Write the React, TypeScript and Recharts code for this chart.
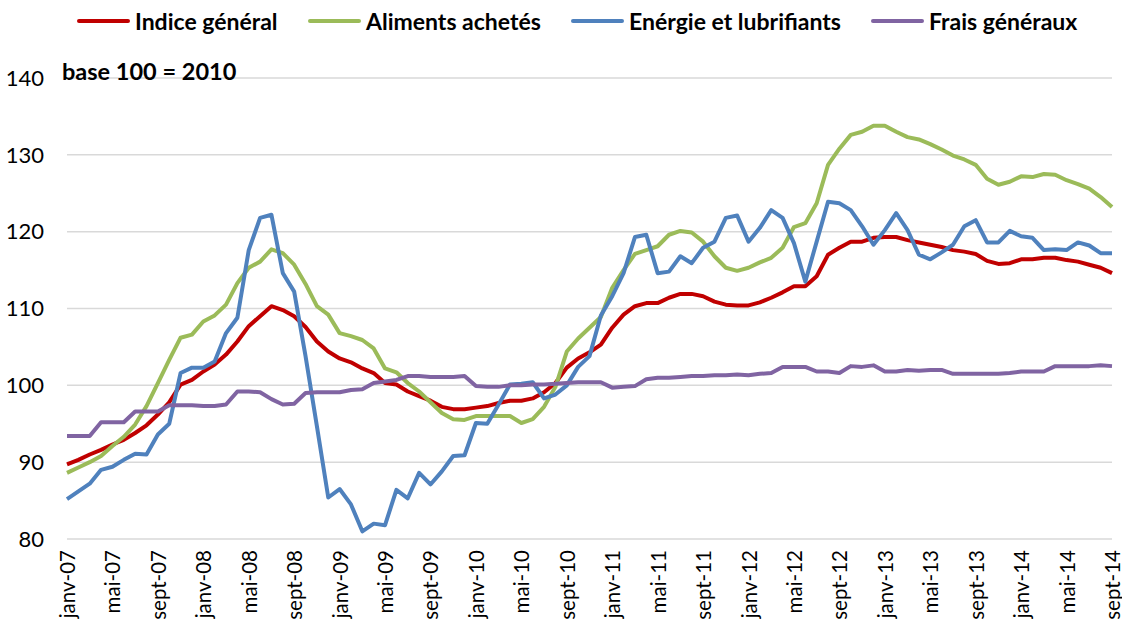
import { LineChart, Line, XAxis, YAxis, CartesianGrid } from 'recharts';

const MONTHS = ['janv', 'févr', 'mars', 'avr', 'mai', 'juin', 'juil', 'août', 'sept', 'oct', 'nov', 'déc'];
const YEARS = ['07', '08', '09', '10', '11', '12', '13', '14'];
const Y_TICKS = [80, 90, 100, 110, 120, 130, 140];

// janv-07 .. sept-14, monthly
const categories: string[] = YEARS.flatMap((yy) => MONTHS.map((m) => `${m}-${yy}`)).slice(0, 93);

const indiceGeneral = [
  89.7, 90.3, 91.0, 91.6, 92.3, 92.9, 93.8, 94.8, 96.2, 97.8, 100.1, 100.7,
  101.8, 102.7, 104.0, 105.7, 107.7, 109.0, 110.3, 109.8, 109.0, 107.6, 105.7, 104.4,
  103.5, 103.0, 102.2, 101.6, 100.3, 100.1, 99.2, 98.6, 98.0, 97.2, 96.9, 96.9,
  97.1, 97.3, 97.7, 98.0, 98.0, 98.3, 99.1, 100.3, 102.3, 103.5, 104.3, 105.3,
  107.5, 109.2, 110.3, 110.7, 110.7, 111.4, 111.9, 111.9, 111.6, 110.9, 110.5, 110.4,
  110.4, 110.8, 111.4, 112.1, 112.9, 112.9, 114.2, 117.0, 117.9, 118.7, 118.7, 119.2,
  119.3, 119.3, 118.9, 118.6, 118.3, 118.0, 117.6, 117.4, 117.1, 116.2, 115.8, 115.9,
  116.4, 116.4, 116.6, 116.6, 116.3, 116.1, 115.7, 115.3, 114.6,
];

const alimentsAchetes = [
  88.6, 89.3, 90.0, 90.8, 92.1, 93.3, 94.9, 97.3, 100.3, 103.3, 106.2, 106.6,
  108.3, 109.1, 110.5, 113.3, 115.3, 116.1, 117.7, 117.2, 115.7, 113.2, 110.3, 109.2,
  106.8, 106.4, 105.9, 104.8, 102.2, 101.7, 100.3, 99.2, 97.8, 96.4, 95.6, 95.5,
  96.0, 96.0, 96.0, 96.0, 95.1, 95.6, 97.2, 99.8, 104.4, 106.1, 107.5, 108.9,
  112.7, 115.0, 117.1, 117.6, 118.1, 119.6, 120.1, 119.9, 118.7, 116.8, 115.3, 114.9,
  115.3, 116.0, 116.6, 117.9, 120.6, 121.1, 123.7, 128.7, 130.8, 132.6, 133.0, 133.8,
  133.8, 133.0, 132.3, 132.0, 131.4, 130.7, 129.9, 129.4, 128.7, 126.9, 126.1, 126.5,
  127.2, 127.1, 127.5, 127.4, 126.7, 126.2, 125.6, 124.5, 123.2,
];

const energieLubrifiants = [
  85.2, 86.2, 87.2, 89.0, 89.4, 90.3, 91.1, 91.0, 93.6, 95.0, 101.6, 102.3,
  102.3, 103.1, 106.8, 108.8, 117.6, 121.8, 122.2, 114.6, 112.2, 103.8, 94.7, 85.4,
  86.5, 84.5, 81.0, 82.0, 81.8, 86.4, 85.3, 88.6, 87.1, 88.8, 90.8, 90.9,
  95.1, 95.0, 97.5, 100.1, 100.2, 100.4, 98.3, 98.8, 100.0, 102.4, 103.8, 109.1,
  111.6, 114.6, 119.3, 119.6, 114.6, 114.8, 116.8, 115.9, 117.9, 118.7, 121.8, 122.1,
  118.7, 120.5, 122.8, 121.8, 118.5, 113.5, 118.7, 123.9, 123.7, 122.8, 120.7, 118.3,
  120.2, 122.4, 120.2, 117.0, 116.4, 117.3, 118.3, 120.7, 121.5, 118.6, 118.6, 120.1,
  119.4, 119.2, 117.6, 117.7, 117.6, 118.6, 118.2, 117.2, 117.2,
];

const fraisGeneraux = [
  93.4, 93.4, 93.4, 95.2, 95.2, 95.2, 96.6, 96.6, 96.6, 97.4, 97.4, 97.4,
  97.3, 97.3, 97.5, 99.2, 99.2, 99.1, 98.2, 97.5, 97.6, 99.0, 99.1, 99.1,
  99.1, 99.4, 99.5, 100.3, 100.5, 100.7, 101.2, 101.2, 101.1, 101.1, 101.1, 101.2,
  99.9, 99.8, 99.8, 100.0, 100.0, 100.1, 100.1, 100.2, 100.3, 100.4, 100.4, 100.4,
  99.7, 99.8, 99.9, 100.8, 101.0, 101.0, 101.1, 101.2, 101.2, 101.3, 101.3, 101.4,
  101.3, 101.5, 101.6, 102.4, 102.4, 102.4, 101.8, 101.8, 101.6, 102.5, 102.4, 102.6,
  101.8, 101.8, 102.0, 101.9, 102.0, 102.0, 101.5, 101.5, 101.5, 101.5, 101.5, 101.6,
  101.8, 101.8, 101.8, 102.5, 102.5, 102.5, 102.5, 102.6, 102.5,
];

const SERIES = [
  { key: 'indice', name: 'Indice général', color: '#C00000', values: indiceGeneral },
  { key: 'aliments', name: 'Aliments achetés', color: '#9BBB59', values: alimentsAchetes },
  { key: 'energie', name: 'Enérgie et lubrifiants', color: '#4F81BD', values: energieLubrifiants },
  { key: 'frais', name: 'Frais généraux', color: '#8064A2', values: fraisGeneraux },
];

// where each legend entry starts (line swatch left edge)
const LEGEND_LEFT = [77, 308, 571, 871];

const data = categories.map((month, i) => {
  const row: Record<string, string | number> = { month };
  SERIES.forEach((s) => {
    row[s.key] = s.values[i];
  });
  return row;
});

const FONT = 'Lato, "Open Sans", sans-serif';

function MonthTick({ x, y, payload }: { x?: number; y?: number; payload?: { value: string } }) {
  return (
    <text
      x={x}
      y={y}
      transform={`rotate(-90, ${x}, ${y})`}
      textAnchor="end"
      dominantBaseline="central"
      fontSize={20.5}
      fontFamily={FONT}
      fill="#000"
    >
      {payload?.value}
    </text>
  );
}

export default function App() {
  return (
    <div style={{ position: 'absolute', left: 0, top: 0, width: 1122, height: 627, background: '#fff', fontFamily: FONT }}>
      {/* legend drawn by hand, Excel style, above the plot */}
      {SERIES.map((s, i) => (
        <div key={s.key} style={{ position: 'absolute', top: 7, left: LEGEND_LEFT[i], display: 'flex', alignItems: 'center', whiteSpace: 'nowrap' }}>
          <span style={{ display: 'inline-block', width: 53, height: 4, borderRadius: 2, background: s.color, marginRight: 5 }} />
          <span style={{ fontSize: 23, fontWeight: 700, color: '#000', lineHeight: '28px' }}>{s.name}</span>
        </div>
      ))}

      <LineChart width={1122} height={627} data={data} margin={{ top: 78, right: 10, left: 0, bottom: 0 }}>
        <CartesianGrid vertical={false} stroke="#d9d9d9" strokeWidth={1.5} />
        <XAxis
          dataKey="month"
          interval={3}
          height={88}
          tickLine={false}
          axisLine={false}
          tickMargin={5}
          tick={<MonthTick />}
        />
        <YAxis
          domain={[80, 140]}
          ticks={Y_TICKS}
          width={67}
          tickLine={false}
          axisLine={false}
          tickMargin={17}
          tick={{ fontSize: 22, fill: '#000', fontFamily: FONT }}
        />
        {SERIES.map((s) => (
          <Line
            key={s.key}
            dataKey={s.key}
            name={s.name}
            stroke={s.color}
            strokeWidth={4}
            strokeLinejoin="round"
            dot={false}
            type="linear"
            isAnimationActive={false}
          />
        ))}
      </LineChart>

      <div style={{ position: 'absolute', left: 62, top: 58, fontSize: 23.5, fontWeight: 700, color: '#000', lineHeight: '26px' }}>
        base 100 = 2010
      </div>
    </div>
  );
}
